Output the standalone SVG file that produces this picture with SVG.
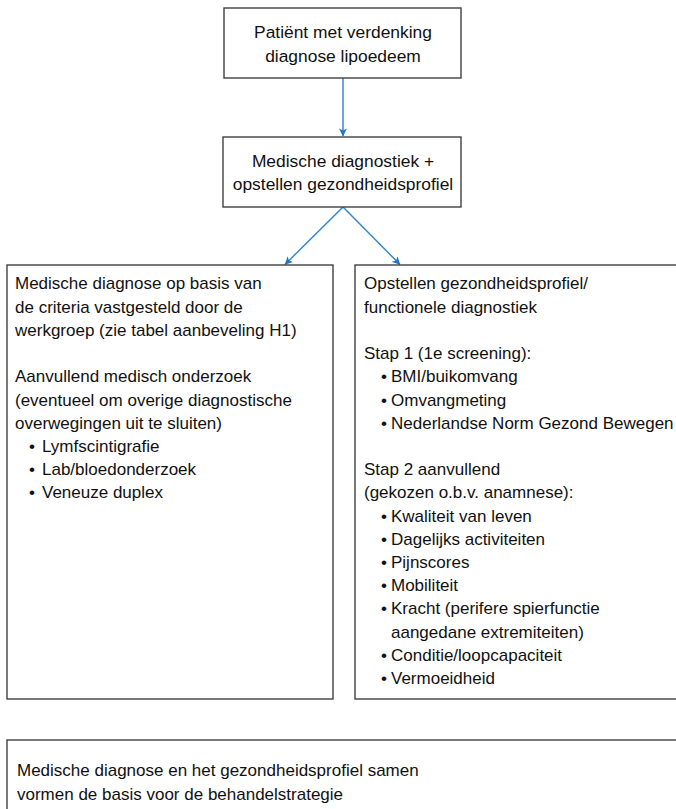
<svg xmlns="http://www.w3.org/2000/svg" width="676" height="809" viewBox="0 0 676 809">
  <style>
    .box { fill: #ffffff; stroke: #404040; stroke-width: 1.4; }
    .t { font-family: "Liberation Sans", Arial, sans-serif; fill: #111111; }
    .c { font-size: 17.4px; text-anchor: middle; }
    .s { font-size: 17px; }
    .conn { stroke: #2b84cc; stroke-width: 1.4; fill: none; }
  </style>
  <defs>
    <marker id="ah" viewBox="0 0 10 10" refX="9.5" refY="5" markerWidth="8" markerHeight="8" markerUnits="userSpaceOnUse" orient="auto">
      <path d="M0,0 L10,5 L0,10 L2.5,5 Z" fill="#1f77c4"/>
    </marker>
  </defs>
  <rect width="676" height="809" fill="#ffffff"/>

  <g id="connectors">
    <line class="conn" x1="343" y1="78" x2="343" y2="136" marker-end="url(#ah)"/>
    <line class="conn" x1="343" y1="207" x2="285" y2="264.5" marker-end="url(#ah)"/>
    <line class="conn" x1="343" y1="207" x2="400" y2="264.5" marker-end="url(#ah)"/>
  </g>

  <g id="node-patient">
    <rect class="box" x="224" y="8" width="237" height="70"/>
    <text class="t c" x="343" y="37.5">Patiënt met verdenking</text>
    <text class="t c" x="343" y="61.5">diagnose lipoedeem</text>
  </g>

  <g id="node-diagnostiek">
    <rect class="box" x="223" y="137" width="238" height="70"/>
    <text class="t c" x="343" y="166.5">Medische diagnostiek +</text>
    <text class="t c" x="343" y="190">opstellen gezondheidsprofiel</text>
  </g>

  <g id="node-medisch">
    <rect class="box" x="7" y="265" width="326" height="434"/>
    <text class="t s" x="15" y="289.3">Medische diagnose op basis van</text>
    <text class="t s" x="15" y="312.5">de criteria vastgesteld door de</text>
    <text class="t s" x="15" y="335.8">werkgroep (zie tabel aanbeveling H1)</text>
    <text class="t s" x="15" y="382.2">Aanvullend medisch onderzoek</text>
    <text class="t s" x="15" y="405.5">(eventueel om overige diagnostische</text>
    <text class="t s" x="15" y="428.7">overwegingen uit te sluiten)</text>
    <text class="t s" x="29" y="452">•</text><text class="t s" x="42" y="452">Lymfscintigrafie</text>
    <text class="t s" x="29" y="475.2">•</text><text class="t s" x="42" y="475.2">Lab/bloedonderzoek</text>
    <text class="t s" x="29" y="498.4">•</text><text class="t s" x="42" y="498.4">Veneuze duplex</text>
  </g>

  <g id="node-profiel">
    <rect class="box" x="355" y="265" width="330" height="434"/>
    <text class="t s" x="364" y="289.3">Opstellen gezondheidsprofiel/</text>
    <text class="t s" x="364" y="312.5">functionele diagnostiek</text>
    <text class="t s" x="364" y="359">Stap 1 (1e screening):</text>
    <text class="t s" x="381" y="382.2">•</text><text class="t s" x="391" y="382.2">BMI/buikomvang</text>
    <text class="t s" x="381" y="405.5">•</text><text class="t s" x="391" y="405.5">Omvangmeting</text>
    <text class="t s" x="381" y="428.7">•</text><text class="t s" x="391" y="428.7">Nederlandse Norm Gezond Bewegen</text>
    <text class="t s" x="364" y="475.2">Stap 2 aanvullend</text>
    <text class="t s" x="364" y="498.4">(gekozen o.b.v. anamnese):</text>
    <text class="t s" x="381" y="521.6">•</text><text class="t s" x="391" y="521.6">Kwaliteit van leven</text>
    <text class="t s" x="381" y="544.8">•</text><text class="t s" x="391" y="544.8">Dagelijks activiteiten</text>
    <text class="t s" x="381" y="568">•</text><text class="t s" x="391" y="568">Pijnscores</text>
    <text class="t s" x="381" y="591.2">•</text><text class="t s" x="391" y="591.2">Mobiliteit</text>
    <text class="t s" x="381" y="614.4">•</text><text class="t s" x="391" y="614.4">Kracht (perifere spierfunctie</text>
    <text class="t s" x="391" y="637.6">aangedane extremiteiten)</text>
    <text class="t s" x="381" y="660.8">•</text><text class="t s" x="391" y="660.8">Conditie/loopcapaciteit</text>
    <text class="t s" x="381" y="684">•</text><text class="t s" x="391" y="684">Vermoeidheid</text>
  </g>

  <g id="node-behandel">
    <rect class="box" x="7" y="740" width="680" height="80"/>
    <text class="t s" x="17" y="776">Medische diagnose en het gezondheidsprofiel samen</text>
    <text class="t s" x="17" y="799.5">vormen de basis voor de behandelstrategie</text>
  </g>
</svg>
